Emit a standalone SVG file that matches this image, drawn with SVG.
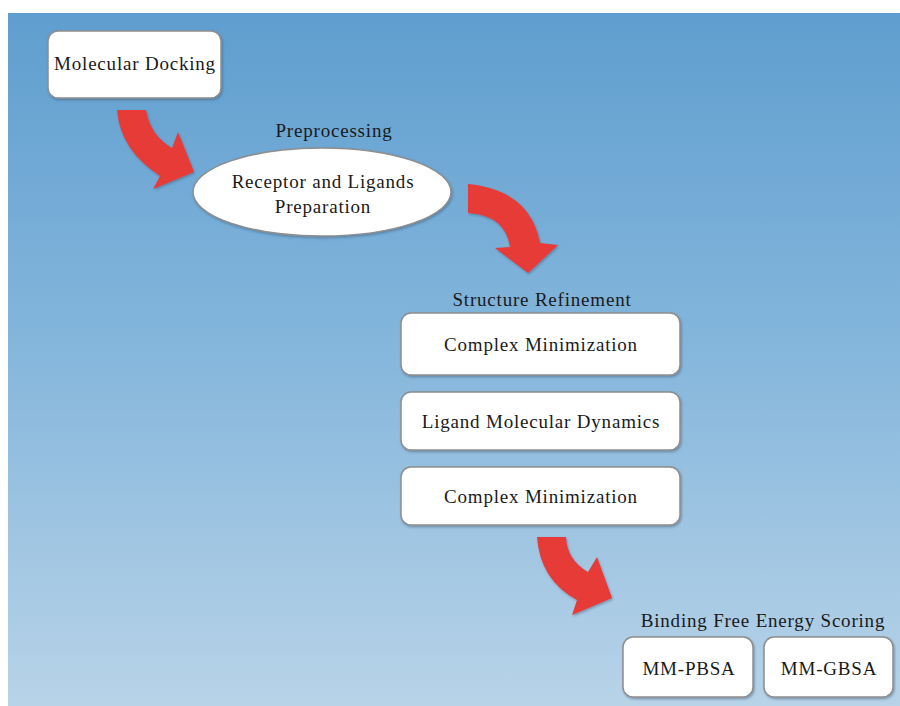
<svg xmlns="http://www.w3.org/2000/svg" width="900" height="706" viewBox="0 0 900 706">
  <defs>
    <linearGradient id="bg" x1="0" y1="0" x2="0" y2="1">
      <stop offset="0" stop-color="#5f9ecf"/>
      <stop offset="0.5" stop-color="#86b7dc"/>
      <stop offset="1" stop-color="#b8d3e8"/>
    </linearGradient>
    <filter id="shadow" x="-10%" y="-10%" width="120%" height="130%">
      <feDropShadow dx="1" dy="1.5" stdDeviation="1.2" flood-color="#33506a" flood-opacity="0.45"/>
    </filter>
  </defs>
  <style>
    .box { fill: #ffffff; stroke: #8e8e8e; stroke-width: 1.5; filter: url(#shadow); }
    .label { font-family: "Liberation Serif", "Times New Roman", serif; font-size: 19px; letter-spacing: 0.8px; fill: #1a1a1a; text-anchor: middle; }
    .arrow { fill: #e73a38; filter: url(#shadow); }
  </style>

  <!-- backdrop -->
  <rect x="8" y="13" width="892" height="693" fill="url(#bg)"/>

  <!-- curved flow arrows -->
  <g id="connectors">
    <path class="arrow" d="M117,110 L146,110 Q150,135 172,148 L178,132 L194,172 L153,189 L160,176 Q120,150 117,110 Z"/>
    <path class="arrow" d="M468,184 Q530,190 540,243 L558,245 L528,273 L495,248 L510,247 Q505,215 468,213 Z"/>
    <path class="arrow" d="M537,537 L566,537 Q567,560 588,572 L597,557 L612,598 L572,615 L577,600 Q540,580 537,537 Z"/>
  </g>

  <g id="molecular-docking">
    <rect class="box" x="48" y="31" width="173" height="67" rx="10"/>
    <text class="label" x="135" y="70">Molecular Docking</text>
  </g>

  <g id="preprocessing">
    <text class="label" x="334" y="137">Preprocessing</text>
    <ellipse class="box" cx="322" cy="192" rx="129" ry="44"/>
    <text class="label" x="323" y="188">Receptor and Ligands</text>
    <text class="label" x="323" y="213">Preparation</text>
  </g>

  <g id="structure-refinement">
    <text class="label" x="542" y="306">Structure Refinement</text>
    <g id="complex-minimization-1">
      <rect class="box" x="401" y="313" width="279" height="62" rx="10"/>
      <text class="label" x="541" y="351">Complex Minimization</text>
    </g>
    <g id="ligand-md">
      <rect class="box" x="401" y="392" width="279" height="58" rx="10"/>
      <text class="label" x="541" y="428">Ligand Molecular Dynamics</text>
    </g>
    <g id="complex-minimization-2">
      <rect class="box" x="401" y="467" width="279" height="58" rx="10"/>
      <text class="label" x="541" y="503">Complex Minimization</text>
    </g>
  </g>

  <g id="binding-free-energy">
    <text class="label" x="763" y="627">Binding Free Energy Scoring</text>
    <g id="mm-pbsa">
      <rect class="box" x="623" y="637" width="130" height="60" rx="10"/>
      <text class="label" x="689" y="675">MM-PBSA</text>
    </g>
    <g id="mm-gbsa">
      <rect class="box" x="764" y="637" width="129" height="60" rx="10"/>
      <text class="label" x="829" y="675">MM-GBSA</text>
    </g>
  </g>
</svg>
